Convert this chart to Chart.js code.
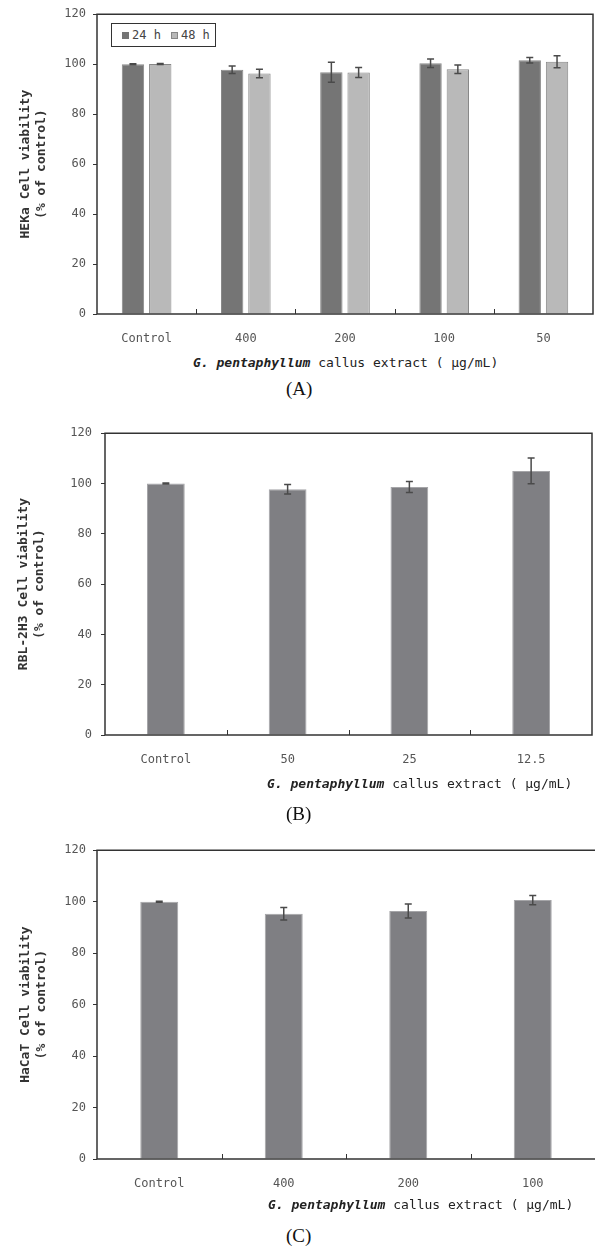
<!DOCTYPE html>
<html>
<head>
<meta charset="utf-8">
<script src="https://cdn.jsdelivr.net/npm/chart.js@4.4.1/dist/chart.umd.min.js"></script>
<style>
  body { margin: 0; background: #fff; }
  #page { position: relative; width: 595px; height: 1255px; overflow: hidden; }
  canvas { position: absolute; left: 0; }
  .xtitle { position: absolute; font: 13px "DejaVu Sans Mono", "Liberation Mono", monospace; color: #222; white-space: nowrap; }
  .xtitle i { font-weight: bold; }
  .panel { position: absolute; font: 19px "Liberation Serif", "DejaVu Serif", serif; color: #111; }
  #legendA { position: absolute; left: 111px; top: 23px; width: 103px; height: 22px; border: 1px solid #333; background: #fff;
             font: 12px "DejaVu Sans Mono", "Liberation Mono", monospace; color: #444; display: flex; align-items: center; }
  #legendA span.sw { display: inline-block; width: 7px; height: 7px; margin: 0 3px 0 10px; box-sizing: border-box; }
</style>
</head>
<body>
<div id="page">
  <canvas id="chartA" width="595" height="345" style="top:0px"></canvas>
  <canvas id="chartB" width="595" height="360" style="top:417px"></canvas>
  <canvas id="chartC" width="595" height="370" style="top:836px"></canvas>
  <div id="legendA"></div>
  <div class="xtitle" style="left:193px; top:355px"><i>G. pentaphyllum</i> callus extract ( μg/mL)</div>
  <div class="panel" style="left:286px; top:378px">(A)</div>
  <div class="xtitle" style="left:267px; top:776px"><i>G. pentaphyllum</i> callus extract ( μg/mL)</div>
  <div class="panel" style="left:286px; top:803px">(B)</div>
  <div class="xtitle" style="left:268px; top:1197px"><i>G. pentaphyllum</i> callus extract ( μg/mL)</div>
  <div class="panel" style="left:286px; top:1225px">(C)</div>
</div>
<script>
// (A) HEKa cells, two time points
const groupsA = ["Control", "400", "200", "100", "50"];
const seriesA = ["24 h", "48 h"];
const heka24 = [100, 97.8, 96.8, 100.4, 101.6];
const heka24Err = [0.2, 1.5, 4.0, 1.7, 1.1];
const heka48 = [100.1, 96.3, 96.7, 98.0, 101.0];
const heka48Err = [0.2, 1.7, 2.0, 1.7, 2.4];

// (B) RBL-2H3 cells
const groupsB = ["Control", "50", "25", "12.5"];
const rbl = [100, 97.7, 98.6, 105.0];
const rblErr = [0.2, 1.9, 2.2, 5.1];

// (C) HaCaT cells
const groupsC = ["Control", "400", "200", "100"];
const hacat = [100, 95.3, 96.4, 100.6];
const hacatErr = [0.2, 2.4, 2.7, 1.8];

const yMin = 0, yMax = 120, yStep = 20;

const monoFamily = '"DejaVu Sans Mono", "Liberation Mono", monospace';
const tickFont = { family: monoFamily, size: 12 };
const darkGray = "#757575", lightGray = "#b9b9b9", singleGray = "#7f7f83";

// box around the plot area + small inward ticks between categories
const frame = {
    id: "frame",
    afterDraw(chart, args, opts) {
        const { ctx, chartArea: a } = chart;
        const x = chart.scales.x;
        ctx.save();
        ctx.strokeStyle = "#333";
        ctx.lineWidth = 1.5;
        ctx.beginPath();
        ctx.moveTo(a.left, a.bottom);
        ctx.lineTo(a.left, a.top);
        ctx.lineTo(a.right, a.top);
        if (opts.rightEdge !== false) ctx.lineTo(a.right, a.bottom);
        else ctx.moveTo(a.right, a.bottom);
        ctx.lineTo(a.left, a.bottom);
        ctx.stroke();
        ctx.lineWidth = 1;
        for (let i = 1; i < x.ticks.length; i++) {
            const px = Math.round((x.getPixelForTick(i - 1) + x.getPixelForTick(i)) / 2) + 0.5;
            ctx.beginPath();
            ctx.moveTo(px, a.bottom);
            ctx.lineTo(px, a.bottom - 5);
            ctx.stroke();
        }
        ctx.restore();
    }
};

const errorBars = {
    id: "errorBars",
    afterDatasetsDraw(chart) {
        const { ctx } = chart;
        const y = chart.scales.y;
        ctx.save();
        ctx.strokeStyle = "#4a4a4a";
        ctx.lineWidth = 1.5;
        chart.data.datasets.forEach((ds, di) => {
            chart.getDatasetMeta(di).data.forEach((bar, i) => {
                const e = ds.errors[i];
                const top = y.getPixelForValue(ds.data[i] + e);
                const bot = y.getPixelForValue(ds.data[i] - e);
                ctx.beginPath();
                ctx.moveTo(bar.x, top); ctx.lineTo(bar.x, bot);
                ctx.moveTo(bar.x - 3.5, top); ctx.lineTo(bar.x + 3.5, top);
                ctx.moveTo(bar.x - 3.5, bot); ctx.lineTo(bar.x + 3.5, bot);
                ctx.stroke();
            });
        });
        ctx.restore();
    }
};

function makeChart(id, labels, datasets, o) {
    return new Chart(document.getElementById(id), {
        type: "bar",
        data: { labels, datasets },
        options: {
            responsive: false,
            animation: false,
            layout: { padding: { top: 12, right: o.right, left: 0, bottom: 0 } },
            plugins: {
                legend: { display: false },
                tooltip: { enabled: false },
                frame: { rightEdge: o.rightEdge }
            },
            datasets: { bar: { categoryPercentage: o.cat, barPercentage: o.bar } },
            scales: {
                x: {
                    grid: { display: false },
                    border: { display: false },
                    ticks: { font: tickFont, color: "#555", padding: 10 },
                    afterFit(s) { s.height = o.xh; }
                },
                y: {
                    min: yMin, max: yMax,
                    grid: { drawOnChartArea: false, drawTicks: true, tickLength: 4, color: "#333" },
                    border: { display: false },
                    ticks: { stepSize: yStep, font: tickFont, color: "#555", padding: o.tpad },
                    title: {
                        display: true,
                        text: o.ytitle,
                        color: "#333",
                        font: { family: monoFamily, size: 13, weight: "bold", lineHeight: 1.2 },
                        padding: { top: o.titlePad, bottom: 0 }
                    },
                    afterFit(s) { s.width = o.yw; }
                }
            }
        },
        plugins: [frame, errorBars]
    });
}

makeChart("chartA", groupsA, [
    { label: seriesA[0], data: heka24, errors: heka24Err, backgroundColor: darkGray, borderColor: "#8a8a8a", borderWidth: 1 },
    { label: seriesA[1], data: heka48, errors: heka48Err, backgroundColor: lightGray, borderColor: "#878787", borderWidth: 1 }
], { right: 2, cat: 0.55, bar: 0.82, xh: 31, yw: 97, tpad: 7, titlePad: 18, rightEdge: true, ytitle: ["HEKa Cell viability", "(% of control)"] });

makeChart("chartB", groupsB, [
    { label: "RBL-2H3", data: rbl, errors: rblErr, backgroundColor: singleGray, borderColor: "#a5a5a8", borderWidth: 1 }
], { right: 3, cat: 1, bar: 0.31, xh: 42, yw: 105, tpad: 9, titlePad: 16, rightEdge: true, ytitle: ["RBL-2H3 Cell viability", "(% of control)"] });

makeChart("chartC", groupsC, [
    { label: "HaCaT", data: hacat, errors: hacatErr, backgroundColor: singleGray, borderColor: "#a5a5a8", borderWidth: 1 }
], { right: 0, cat: 1, bar: 0.305, xh: 47, yw: 97, tpad: 7, titlePad: 18, rightEdge: false, ytitle: ["HaCaT Cell viability", "(% of control)"] });

// legend for panel A
const leg = document.getElementById("legendA");
[[seriesA[0], darkGray, "#757575"], [seriesA[1], lightGray, "#888"]].forEach(([txt, fill, edge]) => {
    const sw = document.createElement("span");
    sw.className = "sw";
    sw.style.background = fill;
    sw.style.border = "1px solid " + edge;
    leg.appendChild(sw);
    leg.appendChild(document.createTextNode(txt));
});
</script>
</body>
</html>
